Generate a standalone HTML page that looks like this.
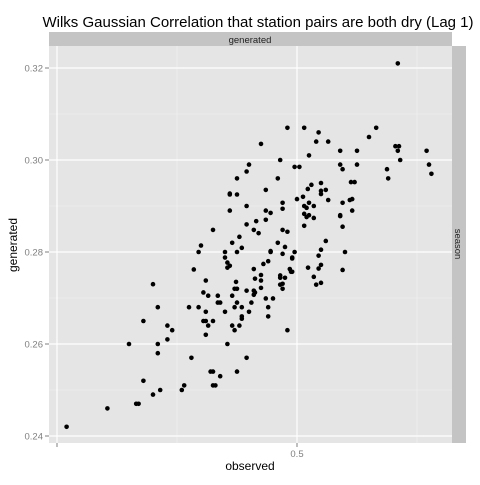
<!DOCTYPE html>
<html><head><meta charset="utf-8"><style>
body{margin:0;background:#fff;font-family:"Liberation Sans",sans-serif;}
svg text{font-family:"Liberation Sans",sans-serif;}
</style></head><body>
<svg id="chart" width="480" height="480" xmlns="http://www.w3.org/2000/svg">
<text x="258" y="27" text-anchor="middle" font-size="15" fill="#000">Wilks Gaussian Correlation that station pairs are both dry (Lag 1)</text>
<rect x="49" y="32" width="403" height="14" fill="#c4c4c4"/>
<text x="250" y="43" text-anchor="middle" font-size="9.5" fill="#222">generated</text>
<rect x="452" y="46" width="14" height="397" fill="#c4c4c4"/>
<text transform="translate(455,244) rotate(90)" text-anchor="middle" font-size="9.5" fill="#222">season</text>
<rect x="49" y="46" width="403" height="397" fill="#e5e5e5"/>
<g id="grid"></g>
<g id="axes"></g>
<g id="points"></g>
<text x="250" y="470" text-anchor="middle" font-size="12" fill="#000">observed</text>
<text transform="translate(17,245) rotate(-90)" text-anchor="middle" font-size="12" fill="#000">generated</text>
</svg>
<script>
const xTicks=[0.4,0.5];
const xTickLabels=["","0.5"];
const xMinor=[0.45,0.55];
const yTicks=[0.24,0.26,0.28,0.30,0.32];
const yTickLabels=["0.24","0.26","0.28","0.30","0.32"];
const yMinor=[0.25,0.27,0.29,0.31];
const observed=[.440,.442,.436,.430,.442,.446,.448,.446,.442,.455,.459,.456,.436,.440,.443,.452,.453,.433,.434,.421,.404,.462,.461,.462,.463,.465,.462,.467,.468,.470,.471,.473,.474,.474,.475,.477,.477,.477,.480,.476,.479,.475,.464,.465,.468,.465,.466,.481,.488,.488,.496,
.542,.496,.503,.509,.508,.513,.485,.505,.518,.525,.530,.533,.541,.5425,.542,.543,.554,.555,.556,.5375,.538,.518,.519,.525,.493,.499,.501,.480,.479,.475,.492,.472,.472,.475,.487,.479,.472,.487,.489,.494,.494,.500,.5025,.5045,.506,.510,.510,.510,.512,.513,.505,.507,.503,.504,.503,.504,.505,.507,.503,.519,.518,.518,.519,.522,.523,.5225,.524,.523,.479,.483,.487,.482,.484,.494,.496,.465,.476,.473,.477,.475,.470,.470,.471,.472,.471,.460,.459,.457,.462,.461,.463,.467,.473,.4746,.474,.475,.479,.482,.4825,.482,.482,.4825,.485,.485,.485,.486,.488,.489,.489,.492,.495,.494,.499,.498,.498,.497,.4975,.498,.493,.493,.495,.493,.494,.494,.487,.490,.5046,.507,.509,.510,.509,.510,.512,.508,.510,.520,.519];
const generated=[.273,.268,.265,.260,.260,.264,.263,.261,.258,.268,.268,.257,.252,.249,.250,.250,.251,.247,.247,.246,.242,.267,.265,.265,.264,.265,.262,.269,.269,.267,.260,.264,.263,.268,.269,.268,.266,.2655,.267,.264,.257,.254,.254,.254,.253,.251,.251,.269,.268,.266,.263,
.321,.307,.307,.306,.304,.304,.3035,.301,.302,.302,.305,.307,.303,.303,.302,.300,.302,.299,.297,.298,.296,.299,.298,.299,.300,.2985,.2985,.299,.2975,.296,.296,.2927,.2925,.2925,.2935,.290,.289,.289,.2885,.2907,.2894,.2915,.292,.2937,.2946,.295,.2933,.2926,.2935,.2913,.2907,.290,.290,.2896,.2883,.2876,.288,.2874,.2857,.2907,.288,.2878,.2855,.2913,.2915,.2952,.2952,.289,.286,.2867,.287,.2848,.2841,.2848,.2844,.2848,.2833,.282,.2809,.280,.280,.2788,.2777,.277,.2766,.2814,.280,.2762,.2738,.2712,.2705,.2705,.2705,.2735,.272,.272,.2716,.2716,.2712,.2707,.2763,.2742,.275,.2738,.2722,.2774,.278,.280,.2802,.282,.2811,.2796,.280,.2788,.2786,.2763,.2757,.2757,.2749,.2744,.2744,.2729,.2731,.272,.2699,.2699,.2766,.2746,.2764,.2772,.2792,.2805,.2824,.2729,.2733,.280,.2761];
const NS="http://www.w3.org/2000/svg";
const X0=49,X1=452,Y0=46,Y1=443;
function sx(v){return 57+(v-0.4)*2400;}
function sy(v){return 68+(0.32-v)*4600;}
const grid=document.getElementById('grid'),axes=document.getElementById('axes'),pts=document.getElementById('points');
function line(g,x1,y1,x2,y2,stroke,w,name){const l=document.createElementNS(NS,'line');l.setAttribute('x1',x1);l.setAttribute('y1',y1);l.setAttribute('x2',x2);l.setAttribute('y2',y2);l.setAttribute('stroke',stroke);l.setAttribute('stroke-width',w);


g.appendChild(l);}
function txt(g,x,y,s,anchor,name){const t=document.createElementNS(NS,'text');t.setAttribute('x',x);t.setAttribute('y',y);t.setAttribute('text-anchor',anchor);t.setAttribute('font-size','9.5');t.setAttribute('fill','#7f7f7f');t.textContent=s;


g.appendChild(t);}
xMinor.forEach(v=>line(grid,sx(v),Y0,sx(v),Y1,'#f2f2f2',0.6,'x-minor-gridline'));
yMinor.forEach(v=>line(grid,X0,sy(v),X1,sy(v),'#f2f2f2',0.6,'y-minor-gridline'));
xTicks.forEach((v,i)=>{line(grid,sx(v),Y0,sx(v),Y1,'#fff',1.2,'x-major-gridline');line(axes,sx(v),Y1,sx(v),Y1+4,'#7f7f7f',1,'x-tick');txt(axes,sx(v),Y1+14,xTickLabels[i],'middle','x-tick-label');});
yTicks.forEach((v,i)=>{line(grid,X0,sy(v),X1,sy(v),'#fff',1.2,'y-major-gridline');line(axes,X0-4,sy(v),X0,sy(v),'#7f7f7f',1,'y-tick');txt(axes,X0-6,sy(v)+3.5,yTickLabels[i],'end','y-tick-label');});
observed.forEach((v,i)=>{const c=document.createElementNS(NS,'circle');c.setAttribute('cx',sx(v));c.setAttribute('cy',sy(generated[i]));c.setAttribute('r','2.3');c.setAttribute('fill','#000');


pts.appendChild(c);});
</script>
</body></html>
